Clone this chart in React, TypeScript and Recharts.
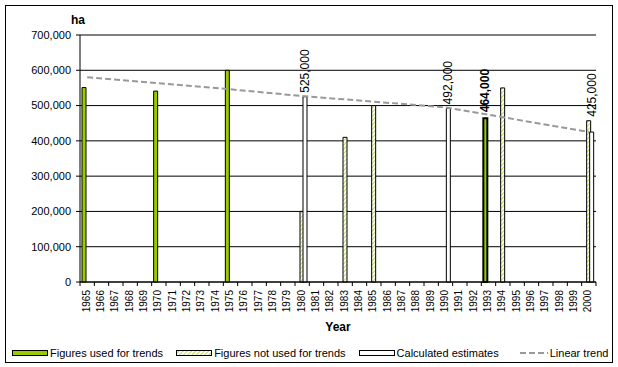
import {
  ComposedChart,
  Bar,
  Line,
  XAxis,
  YAxis,
  CartesianGrid,
  LabelList,
  Cell,
  Label,
} from "recharts";

const years = [
  "1965", "1966", "1967", "1968", "1969", "1970", "1971", "1972", "1973",
  "1974", "1975", "1976", "1977", "1978", "1979", "1980", "1981", "1982",
  "1983", "1984", "1985", "1986", "1987", "1988", "1989", "1990", "1991",
  "1992", "1993", "1994", "1995", "1996", "1997", "1998", "1999", "2000",
];

// Figures used for trends (green)
const usedYears = ["1965", "1970", "1975", "1993"];
const usedValues = [551000, 541000, 600000, 464000];
const labelledUsedYears = ["1993"];

// Figures not used for trends (hatched)
const notUsedYears = ["1980", "1983", "1985", "1994", "2000"];
const notUsedValues = [200000, 410000, 500000, 550000, 457000];

// Calculated estimates (white, labelled)
const estimateYears = ["1980", "1990", "2000"];
const estimateValues = [525000, 492000, 425000];

// Linear trend
const trendYears = ["1965", "1975", "1980", "1990", "1994", "2000"];
const trendValues = [580000, 546000, 527000, 495000, 467000, 425000];

const yTicks = [0, 100000, 200000, 300000, 400000, 500000, 600000, 700000];

const GREEN = "#99cc00";
const TREND = "#999999";
const FONT = '"Liberation Sans", Arial, sans-serif';

const pick = (keys: string[], values: number[], year: string) => {
  const i = keys.indexOf(year);
  return i === -1 ? null : values[i];
};

const data = years.map((year) => ({
  year,
  used: pick(usedYears, usedValues, year),
  notUsed: pick(notUsedYears, notUsedValues, year),
  estimate: pick(estimateYears, estimateValues, year),
  trend: pick(trendYears, trendValues, year),
}));

const fmt = (v: number) => v.toLocaleString("en-US");

const PLOT_WIDTH = 516;
const band = PLOT_WIDTH / years.length;

function YearTick(props: any) {
  const { x, y, payload, index } = props;
  return (
    <g>
      <line x1={x - band / 2} x2={x - band / 2} y1={y} y2={y + 4} stroke="#000" />
      {index === years.length - 1 && (
        <line x1={x + band / 2} x2={x + band / 2} y1={y} y2={y + 4} stroke="#000" />
      )}
      <text
        transform={`translate(${x + 2.5},${y + 8}) rotate(-90)`}
        textAnchor="end"
        fontSize={10}
        fontFamily={FONT}
        fill="#000"
      >
        {payload.value}
      </text>
    </g>
  );
}

function rotatedLabel(x: number, top: number, text: string, bold: boolean) {
  return (
    <text
      transform={`translate(${x},${top}) rotate(-90)`}
      textAnchor="start"
      fontSize={12}
      fontFamily={FONT}
      fontWeight={bold ? "bold" : "normal"}
      fill="#000"
    >
      {text}
    </text>
  );
}

const renderEstimateLabel = (props: any) => {
  const { x, y, width, height, value } = props;
  if (value == null) return null;
  const row = data.find((d) => d.estimate === value);
  // sit above the taller bar of the group
  const tallest = Math.max(value, row?.notUsed ?? 0);
  const perUnit = height / value;
  const top = y + height - tallest * perUnit;
  return rotatedLabel(x + width / 2 + 4, top - 4, fmt(value), false);
};

const renderUsedLabel = (props: any) => {
  const { x, y, width, value } = props;
  if (value == null) return null;
  const row = data.find((d) => d.used === value);
  if (!row || !labelledUsedYears.includes(row.year)) return null;
  return rotatedLabel(x + width / 2 + 4, y - 6, fmt(value), true);
};

function LegendItem({ swatch, text }: { swatch: React.ReactNode; text: string }) {
  return (
    <div style={{ display: "flex", alignItems: "center", marginRight: 13 }}>
      <svg width={37} height={8} style={{ marginRight: 1 }}>
        {swatch}
      </svg>
      <span>{text}</span>
    </div>
  );
}

export default function App() {
  return (
    <div
      style={{
        position: "absolute",
        left: 0,
        top: 0,
        width: 618,
        height: 367,
        background: "#fff",
        fontFamily: FONT,
      }}
    >
      <div
        style={{
          position: "absolute",
          left: 5,
          top: 5,
          width: 608,
          height: 358,
          border: "1px solid #000",
          boxSizing: "border-box",
        }}
      />
      <div style={{ position: "absolute", left: 0, top: 0 }}>
        <ComposedChart
          width={618}
          height={367}
          data={data}
          margin={{ top: 35, right: 22, bottom: 47, left: 5 }}
          barGap={-1}
        >
          <defs>
            <pattern
              id="hatch"
              width="3"
              height="3"
              patternUnits="userSpaceOnUse"
              patternTransform="rotate(45)"
            >
              <rect width="3" height="3" fill="#fff" />
              <line x1="0" y1="0" x2="0" y2="3" stroke={GREEN} strokeWidth={1.3} />
            </pattern>
          </defs>
          <CartesianGrid vertical={false} stroke="#000" />
          <XAxis
            dataKey="year"
            interval={0}
            tick={<YearTick />}
            tickLine={false}
            tickSize={0}
            tickMargin={0}
            axisLine={{ stroke: "#000" }}
            height={38}
          >
            <Label
              value="Year"
              position="bottom"
              offset={2}
              style={{ fontSize: 12, fontWeight: "bold", fontFamily: FONT, fill: "#000" }}
            />
          </XAxis>
          <YAxis
            width={75}
            domain={[0, 700000]}
            ticks={yTicks}
            interval={0}
            tickFormatter={fmt}
            tick={{ fontSize: 11, fontFamily: FONT, fill: "#000" }}
            tickSize={4}
            tickMargin={5}
            tickLine={{ stroke: "#000" }}
            axisLine={{ stroke: "#000" }}
          >
            <Label
              content={(p: any) => {
                const vb = p.viewBox;
                return (
                  <text
                    x={vb.x + vb.width - 9}
                    y={vb.y - 11}
                    fontSize={12}
                    fontWeight="bold"
                    fontFamily={FONT}
                    fill="#000"
                  >
                    ha
                  </text>
                );
              }}
            />
          </YAxis>
          <Bar
            dataKey="used"
            barSize={4}
            fill={GREEN}
            stroke="#000"
            strokeWidth={1}
            isAnimationActive={false}
          >
            {data.map((d) => (
              <Cell
                key={d.year}
                strokeWidth={labelledUsedYears.includes(d.year) ? 2 : 1}
              />
            ))}
            <LabelList dataKey="used" content={renderUsedLabel} />
          </Bar>
          <Bar
            dataKey="notUsed"
            barSize={4}
            fill="url(#hatch)"
            stroke="#000"
            strokeWidth={1}
            isAnimationActive={false}
          />
          <Bar
            dataKey="estimate"
            barSize={4}
            fill="#fff"
            stroke="#000"
            strokeWidth={1}
            isAnimationActive={false}
          >
            <LabelList dataKey="estimate" content={renderEstimateLabel} />
          </Bar>
          <Line
            dataKey="trend"
            type="linear"
            stroke={TREND}
            strokeWidth={2}
            strokeDasharray="6 3"
            dot={false}
            activeDot={false}
            connectNulls
            isAnimationActive={false}
          />
        </ComposedChart>
      </div>
      <div
        style={{
          position: "absolute",
          left: 12,
          top: 347,
          display: "flex",
          alignItems: "center",
          fontSize: 11,
          color: "#000",
          whiteSpace: "nowrap",
        }}
      >
        <LegendItem
          text="Figures used for trends"
          swatch={<rect x={0.5} y={1.5} width={35} height={5} fill={GREEN} stroke="#000" />}
        />
        <LegendItem
          text="Figures not used for trends"
          swatch={
            <>
              <defs>
                <pattern
                  id="hatchLegend"
                  width="3"
                  height="3"
                  patternUnits="userSpaceOnUse"
                  patternTransform="rotate(45)"
                >
                  <rect width="3" height="3" fill="#fff" />
                  <line x1="0" y1="0" x2="0" y2="3" stroke={GREEN} strokeWidth={1.3} />
                </pattern>
              </defs>
              <rect x={0.5} y={1.5} width={35} height={5} fill="url(#hatchLegend)" stroke="#000" />
            </>
          }
        />
        <LegendItem
          text="Calculated estimates"
          swatch={<rect x={0.5} y={1.5} width={35} height={5} fill="#fff" stroke="#000" />}
        />
        <LegendItem
          text="Linear trend"
          swatch={
            <line x1={8} x2={36} y1={4} y2={4} stroke={TREND} strokeWidth={2} strokeDasharray="6 3" />
          }
        />
      </div>
    </div>
  );
}
